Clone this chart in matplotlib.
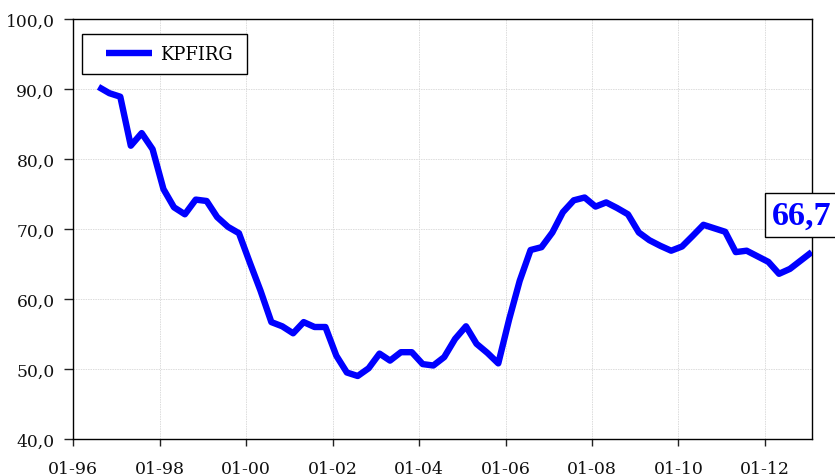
import matplotlib
matplotlib.use("Agg")
import matplotlib.pyplot as plt
import matplotlib.dates as mdates
from matplotlib.legend_handler import HandlerLine2D
from matplotlib.ticker import FuncFormatter
import pandas as pd

# Quarterly KPFIRG index, first observation Aug 1996
series_name = "KPFIRG"
start_date = "1996-08-01"
kpfirg = [
    90.3, 89.4, 88.9, 81.9, 83.7, 81.4, 75.7, 73.1, 72.1, 74.2,
    74.0, 71.7, 70.3, 69.4, 65.2, 61.2, 56.7, 56.1, 55.1, 56.7,
    56.0, 56.0, 51.9, 49.5, 49.0, 50.1, 52.2, 51.2, 52.4, 52.4,
    50.7, 50.5, 51.7, 54.3, 56.1, 53.6, 52.3, 50.8, 57.1, 62.6,
    67.0, 67.4, 69.5, 72.4, 74.1, 74.5, 73.2, 73.8, 73.0, 72.1,
    69.5, 68.4, 67.6, 66.9, 67.5, 69.0, 70.6, 70.1, 69.6, 66.7,
    66.9, 66.1, 65.3, 63.6, 64.3, 65.5, 66.7,
]
tick_dates = ["1996-01-01", "1998-01-01", "2000-01-01", "2002-01-01",
              "2004-01-01", "2006-01-01", "2008-01-01", "2010-01-01",
              "2012-01-01"]
tick_labels = ["01-96", "01-98", "01-00", "01-02", "01-04", "01-06",
               "01-08", "01-10", "01-12"]
y_ticks = [40, 50, 60, 70, 80, 90, 100]

dates = pd.date_range(start_date, periods=len(kpfirg), freq="3MS")
x = mdates.date2num(dates.to_pydatetime())
xt = mdates.date2num(pd.to_datetime(tick_dates).to_pydatetime())

FONT = "DejaVu Serif"
BLUE = "#0000FF"

W, H = 835, 477
fig = plt.figure(figsize=(W / 100, H / 100), dpi=100)
ax = fig.add_axes([73.3 / W, 1 - 440 / H, 738.4 / W, 420 / H])

line, = ax.plot(x, kpfirg, color=BLUE, lw=4.6, label=series_name,
                solid_joinstyle="round", solid_capstyle="butt", zorder=3)

ax.set_xlim(mdates.date2num(pd.Timestamp("1996-01-01")), x[-1])
ax.set_ylim(40, 100)
ax.set_xticks(xt)
ax.set_xticklabels(tick_labels)
ax.set_yticks(y_ticks)
ax.yaxis.set_major_formatter(FuncFormatter(lambda v, p: f"{v:.1f}".replace(".", ",")))

ax.grid(True, color="#dcdcdc", lw=0.7, linestyle=(0, (1.5, 1)), zorder=0)
for s in ax.spines.values():
    s.set_color("black")
    s.set_linewidth(1.0)

ax.tick_params(axis="y", direction="out", length=6.5, width=1, pad=7,
               labelsize=12.3, color="#222222")
ax.tick_params(axis="x", direction="out", length=5, width=1, pad=10,
               labelsize=12.5, color="#222222")
for lab in ax.get_xticklabels() + ax.get_yticklabels():
    lab.set_fontfamily(FONT)
    lab.set_color("#111111")

# Legend box in the upper-left corner
leg = ax.legend(
    handles=[line], loc="upper left",
    bbox_to_anchor=(8.4 / 738.4, 1 - 19.3 / 420, 165 / 738.4, 0.01),
    mode="expand", borderaxespad=0, borderpad=0.62, fancybox=False,
    framealpha=1, edgecolor="black", handlelength=3.3, handletextpad=0.4,
    prop={"family": FONT, "size": 13},
    handler_map={line: HandlerLine2D(xpad=0.74)},
)
leg.get_frame().set_linewidth(1.0)

# Latest value callout
last_label = f"{kpfirg[-1]:.1f}".replace(".", ",")
fig.text(772 / W, 1 - 216 / H, last_label, color=BLUE, fontsize=24.5,
         fontweight="bold", family="Liberation Serif", ha="left", va="center",
         bbox=dict(boxstyle="square,pad=0.2", fc="white", ec="black", lw=1.0))

fig.savefig("out.png", dpi=100)
